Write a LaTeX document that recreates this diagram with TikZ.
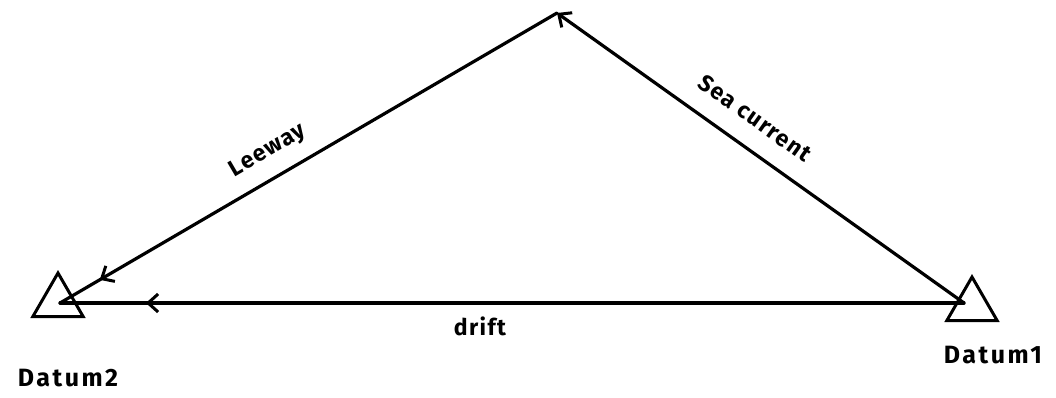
\documentclass[tikz,border=0pt]{standalone}
\usepackage{fontspec}
\setmainfont{Fira Sans}[LetterSpace=6]
\usetikzlibrary{arrows.meta,decorations.markings,shapes.geometric}
\tikzset{
  edge/.style={line width=3.2pt, line cap=round},
  tip/.style={-{Straight Barb[length=10pt,width=18pt,line width=3pt]}},
  midtip/.style={postaction={decorate},decoration={markings,
      mark=at position #1 with {\arrow{Straight Barb[length=10pt,width=18pt,line width=3pt]}}}},
  datum/.style={regular polygon, regular polygon sides=3, draw, line width=3pt,
      minimum size=58pt, inner sep=0pt},
  lbl/.style={font=\fontsize{23pt}{26pt}\selectfont\bfseries, inner sep=0pt},
  dlbl/.style={font=\fontsize{25pt}{28pt}\selectfont\bfseries\addfontfeatures{LetterSpace=10}, inner sep=0pt},
}
\begin{document}
\begin{tikzpicture}[x=1pt,y=-1pt]
\useasboundingbox (0,0) rectangle (1056,398);
\node[datum] (tri2) at (58,302) {};
\node[datum] (tri1) at (972,306) {};
\coordinate (D2) at (60,303);
\coordinate (D1) at (964,303);
\coordinate (T) at (557,13);
% sea current
\draw[edge,tip] (D1) -- (T);
% leeway
\draw[edge,midtip=0.92] (T) -- (D2);
% drift
\draw[edge,midtip=0.905] (D1) -- (D2);
\node[lbl, rotate=30.3] (lee) at (268,151) {Leeway};
\node[lbl, rotate=-35.4] (sea) at (755,118) {Sea current};
\node[lbl] (drift) at (480,326) {drift};
\node[dlbl] (l2) at (68,378) {Datum2};
\node[dlbl] (l1) at (993,355) {Datum1};
\end{tikzpicture}
\end{document}
